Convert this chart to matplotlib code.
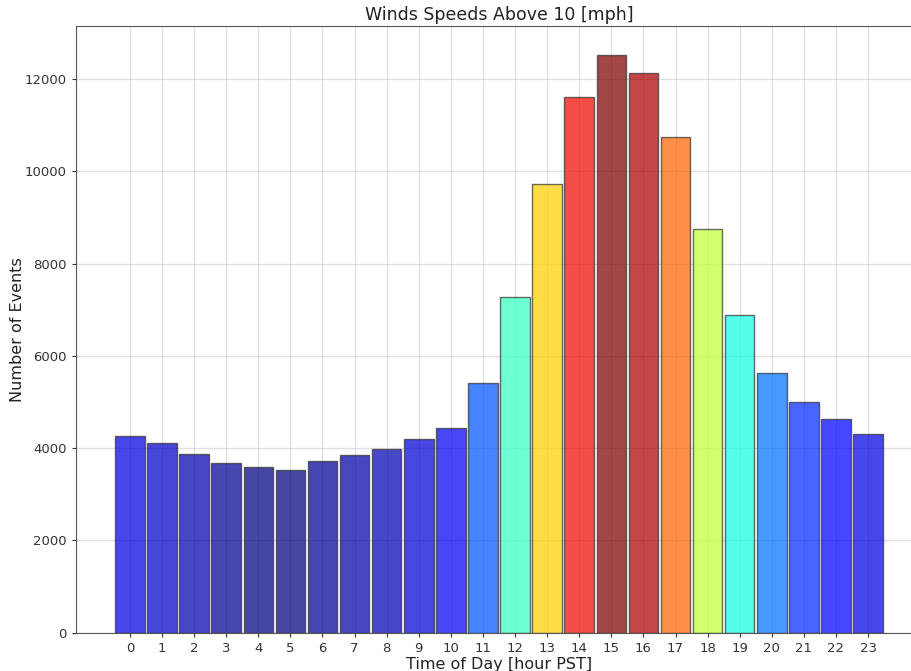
import numpy as np
import matplotlib
matplotlib.use("Agg")
import matplotlib.pyplot as plt

# hourly counts of wind events above 10 mph
hours = list(range(24))
events = [4270, 4105, 3880, 3680, 3585, 3515, 3715, 3845, 3970, 4185,
          4440, 5415, 7275, 9715, 11620, 12525, 12140, 10750, 8760, 6885,
          5630, 4995, 4635, 4315]

fig = plt.figure(figsize=(9.11, 6.71), dpi=100)
ax = fig.add_axes([76 / 911, 1 - 632.5 / 671, (922 - 76) / 911, (632.5 - 26) / 671])

vals = np.array(events)
norm = (vals - vals.min()) / (vals.max() - vals.min())
colors = plt.cm.jet(norm)

ax.bar(hours, events, width=0.92, color=colors, alpha=0.72,
       edgecolor="#333333", linewidth=1)

ax.set_xticks(hours)
ax.set_xlim(-1.68, 24.68)
ax.grid(True, color="#cccccc", alpha=0.6, linewidth=1)
ax.set_axisbelow(True)

ax.set_title("Winds Speeds Above 10 [mph]", fontsize=12.5, color="#222222", pad=4)
ax.set_xlabel("Time of Day [hour PST]", fontsize=11.5, color="#222222", labelpad=2)
ax.set_ylabel("Number of Events", fontsize=11.5, color="#222222")
ax.yaxis.set_label_coords(-0.060, 0.5)
ax.tick_params(labelsize=9.5, colors="#333333", length=3)
for s in ax.spines.values():
    s.set_color("#555555")

fig.savefig("out.png", dpi=100)
